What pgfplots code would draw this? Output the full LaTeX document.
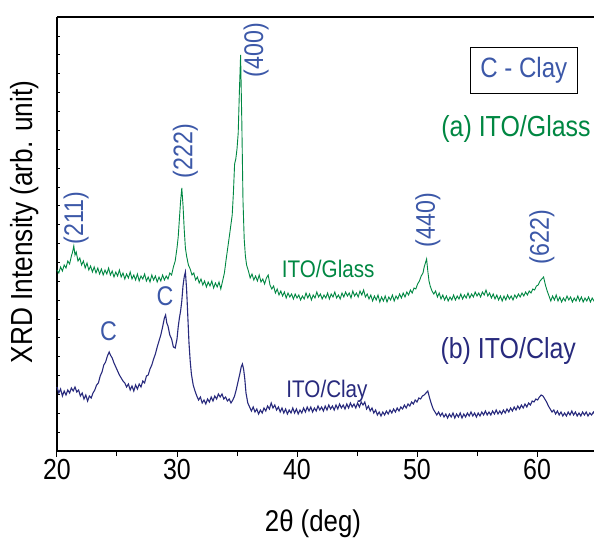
\documentclass[border=0pt]{standalone}
\usepackage{pgfplots}
\pgfplotsset{compat=1.18}
\usepackage{fontspec}
\setmainfont{Liberation Sans}[FakeStretch=0.86]
\definecolor{glassgreen}{RGB}{0,135,66}
\definecolor{claynavy}{RGB}{40,42,125}
\definecolor{lblblue}{RGB}{60,88,168}

\pgfplotstableread{
x y
20.00 181
20.15 178
20.30 184
20.45 180
20.60 186
20.75 183
20.90 190
21.05 187
21.20 195
21.30 199
21.40 205
21.50 196
21.60 199
21.75 190
21.90 193
22.05 186
22.20 190
22.35 183
22.50 188
22.65 181
22.80 185
22.95 179
23.10 184
23.25 178
23.40 183
23.55 177
23.70 182
23.85 176
24.00 181
24.15 177
24.30 183
24.45 176
24.60 180
24.75 174
24.90 179
25.05 175
25.20 181
25.35 174
25.50 178
25.65 172
25.80 177
25.95 173
26.10 179
26.25 172
26.40 176
26.55 171
26.70 177
26.85 170
27.00 175
27.15 172
27.30 177
27.45 170
27.60 174
27.75 169
27.90 176
28.05 171
28.20 175
28.35 169
28.50 174
28.65 170
28.80 176
28.95 171
29.10 175
29.25 172
29.40 178
29.55 176
29.70 184
29.85 190
30.00 203
30.10 214
30.20 232
30.30 250
30.40 263
30.50 246
30.60 222
30.70 203
30.80 195
30.95 186
31.10 182
31.25 176
31.40 178
31.55 171
31.70 174
31.85 168
32.00 172
32.15 166
32.30 170
32.45 164
32.60 169
32.75 165
32.90 170
33.05 163
33.20 168
33.35 164
33.50 169
33.65 162
33.80 170
33.95 178
34.10 192
34.25 205
34.40 218
34.50 227
34.60 236
34.70 258
34.80 287
34.90 292
35.00 302
35.10 318
35.20 360
35.30 396
35.40 330
35.50 250
35.60 212
35.70 195
35.80 186
35.95 180
36.10 173
36.25 177
36.40 171
36.55 175
36.70 170
36.85 176
37.00 169
37.15 172
37.30 167
37.45 173
37.60 176
37.75 166
37.90 162
38.05 165
38.20 158
38.35 162
38.50 156
38.65 160
38.80 155
38.95 159
39.10 153
39.25 158
39.40 154
39.55 157
39.70 152
39.85 157
40.00 153
40.15 156
40.30 151
40.45 155
40.60 152
40.75 158
40.90 153
41.05 157
41.20 151
41.35 156
41.50 153
41.65 159
41.80 154
41.95 157
42.10 152
42.25 156
42.40 153
42.55 158
42.70 152
42.85 157
43.00 154
43.15 159
43.30 153
43.45 156
43.60 152
43.75 158
43.90 154
44.05 159
44.20 155
44.35 158
44.50 153
44.65 160
44.80 155
44.95 158
45.10 154
45.25 160
45.40 156
45.55 161
45.70 154
45.85 157
46.00 152
46.15 156
46.30 150
46.45 155
46.60 151
46.75 156
46.90 149
47.05 154
47.20 150
47.35 155
47.50 149
47.65 154
47.80 151
47.95 156
48.10 150
48.25 155
48.40 152
48.55 157
48.70 153
48.85 158
49.00 154
49.15 159
49.30 156
49.45 161
49.60 158
49.75 163
49.90 162
50.05 167
50.20 170
50.35 175
50.50 178
50.60 184
50.70 188
50.80 192
50.90 180
51.00 170
51.10 165
51.25 160
51.40 157
51.55 160
51.70 154
51.85 158
52.00 152
52.15 156
52.30 151
52.45 155
52.60 150
52.75 154
52.90 151
53.05 156
53.20 151
53.35 155
53.50 152
53.65 157
53.80 152
53.95 156
54.10 153
54.25 158
54.40 153
54.55 157
54.70 154
54.85 159
55.00 155
55.15 158
55.30 154
55.45 159
55.60 156
55.75 161
55.90 155
56.05 158
56.20 153
56.35 157
56.50 152
56.65 156
56.80 151
56.95 155
57.10 150
57.25 155
57.40 151
57.55 156
57.70 152
57.85 155
58.00 151
58.15 156
58.30 153
58.45 157
58.60 154
58.75 158
58.90 155
59.05 159
59.20 156
59.35 160
59.50 158
59.65 162
59.80 161
59.95 165
60.10 166
60.25 170
60.40 172
60.55 174
60.70 166
60.85 160
61.00 155
61.15 150
61.30 155
61.45 151
61.60 156
61.75 150
61.90 154
62.05 149
62.20 153
62.35 150
62.50 155
62.65 151
62.80 154
62.95 149
63.10 153
63.25 150
63.40 155
63.55 150
63.70 154
63.85 149
64.00 153
64.15 150
64.30 154
64.45 149
64.60 153
64.75 150
64.90 153
65.00 151
}\glass

\pgfplotstableread{
x y
20.00 64
20.15 58
20.30 62
20.45 55
20.60 60
20.75 56
20.90 61
21.05 58
21.20 63
21.35 60
21.50 64
21.65 59
21.80 61
21.95 55
22.10 58
22.25 52
22.40 56
22.55 50
22.70 55
22.85 53
23.00 58
23.15 61
23.30 66
23.45 68
23.60 75
23.75 79
23.90 86
24.05 89
24.20 95
24.35 99
24.45 96
24.60 93
24.75 88
24.90 84
25.05 80
25.20 76
25.35 73
25.50 70
25.65 68
25.80 64
25.95 67
26.10 61
26.25 65
26.40 60
26.55 66
26.70 62
26.85 67
27.00 64
27.15 70
27.30 68
27.45 75
27.60 76
27.75 82
27.90 86
28.05 92
28.20 97
28.35 104
28.50 110
28.65 116
28.80 124
28.95 133
29.05 136
29.15 128
29.25 125
29.40 116
29.55 112
29.70 104
29.85 103
30.00 112
30.10 124
30.20 133
30.30 140
30.40 150
30.50 165
30.60 174
30.70 179
30.80 162
30.90 135
31.00 108
31.10 90
31.20 77
31.35 66
31.50 60
31.65 55
31.80 51
31.95 54
32.10 48
32.25 51
32.40 47
32.55 52
32.70 49
32.85 54
33.00 50
33.15 55
33.30 52
33.45 57
33.60 54
33.75 57
33.90 52
34.05 54
34.20 50
34.35 52
34.50 48
34.65 51
34.80 55
34.95 62
35.10 70
35.25 78
35.35 84
35.45 87
35.55 82
35.65 72
35.75 58
35.90 48
36.05 44
36.20 40
36.35 44
36.50 39
36.65 42
36.80 37
36.95 41
37.10 38
37.25 43
37.40 40
37.55 45
37.70 42
37.85 48
38.00 43
38.15 46
38.30 41
38.45 44
38.60 39
38.75 43
38.90 38
39.05 42
39.20 37
39.35 41
39.50 38
39.65 43
39.80 38
39.95 42
40.10 37
40.25 41
40.40 38
40.55 43
40.70 39
40.85 44
41.00 40
41.15 44
41.30 39
41.45 43
41.60 40
41.75 45
41.90 41
42.05 44
42.20 40
42.35 45
42.50 41
42.65 46
42.80 42
42.95 45
43.10 41
43.25 46
43.40 42
43.55 47
43.70 43
43.85 46
44.00 42
44.15 47
44.30 43
44.45 48
44.60 44
44.75 47
44.90 43
45.05 48
45.20 44
45.35 49
45.50 46
45.65 49
45.80 42
45.95 45
46.10 40
46.25 43
46.40 38
46.55 41
46.70 36
46.85 39
47.00 35
47.15 39
47.30 36
47.45 40
47.60 37
47.75 41
47.90 38
48.05 42
48.20 39
48.35 43
48.50 40
48.65 44
48.80 42
48.95 46
49.10 43
49.25 47
49.40 45
49.55 49
49.70 47
49.85 51
50.00 49
50.15 53
50.30 52
50.45 55
50.60 56
50.75 58
50.90 60
51.05 53
51.20 47
51.35 42
51.50 39
51.65 36
51.80 39
51.95 35
52.10 38
52.25 34
52.40 37
52.55 33
52.70 37
52.85 34
53.00 38
53.15 33
53.30 37
53.45 34
53.60 38
53.75 33
53.90 37
54.05 34
54.20 38
54.35 35
54.50 39
54.65 35
54.80 38
54.95 34
55.10 38
55.25 35
55.40 39
55.55 36
55.70 40
55.85 36
56.00 39
56.15 36
56.30 40
56.45 37
56.60 41
56.75 37
56.90 40
57.05 37
57.20 41
57.35 38
57.50 42
57.65 39
57.80 43
57.95 40
58.10 44
58.25 41
58.40 45
58.55 42
58.70 46
58.85 43
59.00 47
59.15 44
59.30 48
59.45 46
59.60 50
59.75 49
59.90 52
60.05 51
60.20 54
60.35 56
60.50 55
60.65 52
60.80 49
60.95 45
61.10 42
61.25 39
61.40 41
61.55 37
61.70 40
61.85 36
62.00 39
62.15 35
62.30 38
62.45 35
62.60 39
62.75 36
62.90 40
63.05 36
63.20 39
63.35 35
63.50 38
63.65 35
63.80 39
63.95 36
64.10 39
64.25 35
64.40 38
64.55 36
64.70 39
64.85 36
65.00 38
}\clay

\begin{document}
\begin{tikzpicture}
\useasboundingbox (-57pt,-87pt) rectangle (537pt,451pt);
\begin{axis}[
  at={(0pt,0pt)}, anchor=south west,
  scale only axis, width=540pt, height=434pt,
  xmin=20, xmax=65, ymin=0, ymax=434,
  axis x line*=box, axis y line*=left,
  axis line style={line width=1.1pt},
  xtick={20,30,...,60}, minor xtick={25,35,...,65},
  xtick pos=bottom,
  ytick=\empty,
  extra y ticks={18.86,37.72,...,416},
  extra y tick labels={},
  extra y tick style={major tick length=3pt, tick align=inside, tick style={line width=0.9pt, black}},
  tick align=outside,
  major tick length=6pt, minor tick length=5pt,
  tick style={line width=1pt, black},
  /pgf/number format/assume math mode=true,
  xticklabel style={font=\fontsize{29}{30}\selectfont, inner sep=2pt},
  xlabel={2θ (deg)},
  xlabel style={font=\fontsize{30}{32}\selectfont, at={(axis description cs:0.474,-0.1855)}, anchor=base},
  ylabel={XRD Intensity (arb. unit)},
  ylabel style={font=\fontsize{30.5}{32}\selectfont, at={(axis description cs:-0.0593,0.528)}, anchor=center},
  clip=false,
]
\addplot[glassgreen, line width=0.9pt] table[x=x,y=y] {\glass};
\addplot[claynavy, line width=1.1pt] table[x=x,y=y] {\clay};

\begin{scope}[every node/.style={font=\fontsize{27}{28}\selectfont, text=lblblue, inner sep=0pt}]
\node[rotate=90] at (axis cs:21.6,233) {(211)};
\node[rotate=90] at (axis cs:30.7,300) {(222)};
\node[rotate=90] at (axis cs:36.6,401) {(400)};
\node[rotate=90] at (axis cs:50.9,231) {(440)};
\node[rotate=90] at (axis cs:60.4,214) {(622)};
\node at (axis cs:24.3,120) {C};
\node at (axis cs:29.0,155) {C};
\end{scope}
\node[font=\fontsize{24}{26}\selectfont, text=glassgreen, anchor=base, inner sep=0pt] at (axis cs:42.6,173) {ITO/Glass};
\node[font=\fontsize{24}{26}\selectfont, text=claynavy, anchor=base, inner sep=0pt] at (axis cs:42.5,54) {ITO/Clay};
\node[font=\fontsize{29}{30}\selectfont, text=glassgreen, anchor=base, inner sep=0pt] at (axis cs:58.25,314) {(a) ITO/Glass};
\node[font=\fontsize{29}{30}\selectfont, text=claynavy, anchor=base, inner sep=0pt] at (axis cs:57.6,93) {(b) ITO/Clay};
\node[draw=black, line width=0.8pt, minimum width=107pt, minimum height=46pt, inner sep=0pt, font=\fontsize{28}{30}\selectfont, text=lblblue] at (axis cs:58.9,381) {C - Clay};
\end{axis}
\end{tikzpicture}
\end{document}
